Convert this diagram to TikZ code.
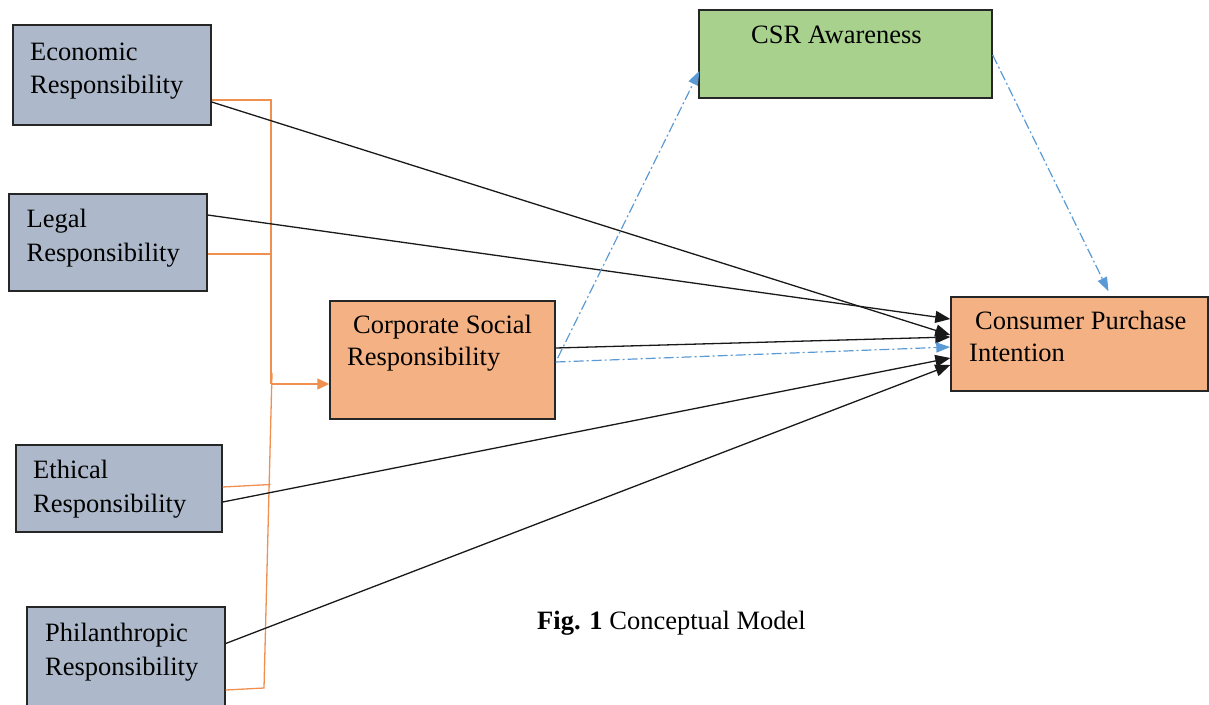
\documentclass[tikz,border=0pt]{standalone}
\usepackage{fontspec}
\setmainfont{Liberation Serif}
\usetikzlibrary{arrows.meta}
\definecolor{boxgrey}{HTML}{ADB9CA}
\definecolor{boxorange}{HTML}{F4B183}
\definecolor{boxgreen}{HTML}{A9D18E}
\definecolor{linkorange}{HTML}{ED7D31}
\definecolor{linkblue}{HTML}{5B9BD5}
\begin{document}
\begin{tikzpicture}[x=1pt,y=-1pt,
  box/.style={draw=black!85,line width=1.4pt,inner sep=0pt,minimum width=#1},
  lbl/.style={anchor=base west,inner sep=0pt,font=\fontsize{26.5}{33}\selectfont},
  blk/.style={draw=black!90,line width=1.3pt,-{Triangle[length=15pt,width=12pt]}},
  bluelink/.style={draw=linkblue,line width=1.2pt,dash pattern=on 10pt off 3pt on 2pt off 3pt,-{Triangle[length=14pt,width=10pt]}},
  brk/.style={draw=linkorange!85,line width=1.3pt}
]
\useasboundingbox (0,0) rectangle (1209,704);
% boxes
\node[box=198pt,minimum height=100pt,fill=boxgrey] (eco) at (112,75) {};
\node[box=198pt,minimum height=97pt,fill=boxgrey] (leg) at (108,242.5) {};
\node[box=225pt,minimum height=118pt,fill=boxorange] (csr) at (442.5,360) {};
\node[box=206pt,minimum height=87pt,fill=boxgrey] (eth) at (119,488.5) {};
\node[box=198pt,minimum height=104pt,fill=boxgrey] (phi) at (126,659) {};
\node[box=293pt,minimum height=88pt,fill=boxgreen] (aw) at (845.5,54) {};
\node[box=257pt,minimum height=94pt,fill=boxorange] (cpi) at (1079.5,344) {};
% labels
\node[lbl] (ecoA) at (30,60) {Economic};
\node[lbl] (ecoB) at (30,93) {Responsibility};
\node[lbl] (legA) at (26.5,227.5) {Legal};
\node[lbl] (legB) at (26.5,261.5) {Responsibility};
\node[lbl] (csrA) at (353,333) {Corporate Social};
\node[lbl] (csrB) at (347,365) {Responsibility};
\node[lbl] (ethA) at (33,478.5) {Ethical};
\node[lbl] (ethB) at (33,512.5) {Responsibility};
\node[lbl] (phiA) at (45,641) {Philanthropic};
\node[lbl] (phiB) at (45,675) {Responsibility};
\node[lbl] (awA) at (751,43.5) {CSR Awareness};
\node[lbl] (cpiA) at (975,329.5) {Consumer Purchase};
\node[lbl] (cpiB) at (969,361.5) {Intention};
\node[lbl] (cap) at (537,629.5) {\textbf{Fig. 1} Conceptual Model};
% orange bracket
\coordinate (bTop) at (271,100);
\coordinate (bLeg) at (271,254);
\coordinate (bMid) at (271,384);
\coordinate (bLow) at (272,373);
\coordinate (bEth) at (270.5,484.5);
\coordinate (bBot) at (264,688);
\draw[brk] ([yshift=-25pt]eco.east) -- (bTop) -- (bMid);
\draw[brk] ([yshift=-11.5pt]leg.east) -- (bLeg);
\draw[brk] (bLow) -- (bBot) -- ([yshift=-31pt]phi.east);
\draw[brk] ([yshift=1.5pt]eth.east) -- (bEth);
\draw[brk,-{Triangle[length=12pt,width=11pt]},fill=linkorange] (bMid) -- ([yshift=-24pt]csr.west);
% black connectors
\draw[blk] ([yshift=-27pt]eco.east) -- ([yshift=9pt]cpi.west);
\draw[blk] ([yshift=27.5pt]leg.east) -- ([yshift=25pt]cpi.west);
\draw[blk] ([yshift=12pt]csr.east) -- ([yshift=7pt]cpi.west);
\draw[blk] ([yshift=-13.5pt]eth.east) -- ([yshift=-14pt]cpi.west);
\draw[blk] ([yshift=15.5pt]phi.east) -- ([yshift=-21pt]cpi.west);
% blue dash-dot connectors
\draw[bluelink] ([yshift=-2pt]csr.east) -- ([yshift=-3pt]cpi.west);
\draw[bluelink] ([yshift=2pt,xshift=2pt]csr.east) -- ([yshift=-17pt,xshift=1pt]aw.west);
\draw[bluelink] ([yshift=-1pt]aw.east) -- ([xshift=29pt,yshift=5pt]cpi.north);
\end{tikzpicture}
\end{document}
